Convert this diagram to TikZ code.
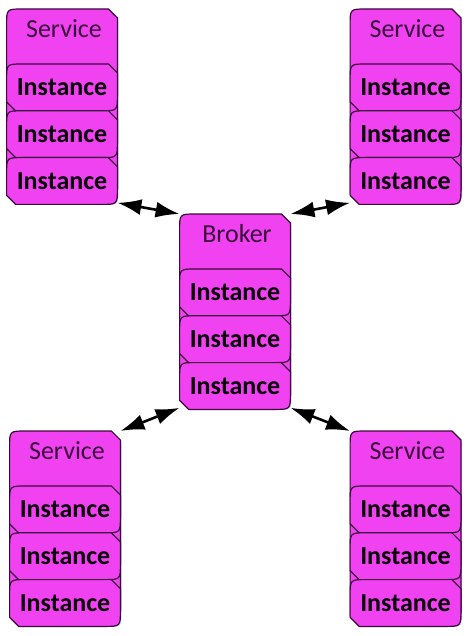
\documentclass[tikz,border=0pt]{standalone}
\usepackage{fontspec}
\setmainfont{Carlito}
\usetikzlibrary{arrows.meta, positioning, calc, backgrounds, shadows}

\definecolor{cardFill}{HTML}{F042F0}
\definecolor{cardLine}{HTML}{3A0A3A}
\definecolor{glowBlue}{HTML}{BDCBF0}

\newcommand{\cardR}{8pt}
\newcommand{\cardC}{4.5pt}
% card outline: round NW/SE corners, cut NE/SW corners
\newcommand{\cardShape}[2]{%
  \path[#2] ($(#1.north west)+(0pt,-\cardR)$) .. controls (#1.north west) .. ($(#1.north west)+(\cardR,0pt)$)
    -- ($(#1.north east)+(-\cardC,0pt)$) -- ($(#1.north east)+(0pt,-\cardC)$)
    -- ($(#1.south east)+(0pt,\cardR)$) .. controls (#1.south east) .. ($(#1.south east)+(-\cardR,0pt)$)
    -- ($(#1.south west)+(\cardC,0pt)$) -- ($(#1.south west)+(0pt,\cardC)$) -- cycle;}

\begin{document}
\begin{tikzpicture}[
        x=0.5pt, y=-0.5pt,
        cardBox/.style={
            rectangle, minimum width=55pt, minimum height=96.5pt, inner sep=0pt
        },
        instBox/.style={
            rectangle, minimum width=55pt, minimum height=23pt, inner sep=0pt,
            font=\fontsize{13}{15}\selectfont\bfseries, text=black!85!cardLine
        },
        titleText/.style={
            inner sep=0pt, font=\fontsize{13}{15}\selectfont, text=cardLine
        },
        cardPaint/.style={
            fill=cardFill, draw=cardLine, line width=0.6pt
        },
        link/.style={
            {Latex[length=12pt,width=8pt]}-{Latex[length=12pt,width=8pt]},
            line width=1.3pt, draw=black
        }
    ]
        \useasboundingbox (0,0) rectangle (469,636);

        % Service, top left
        \node (svcA) [cardBox, anchor=north] at (62,9) {};
        \node (svcAt) [titleText] at ($(svcA.north)+(2,20)$) {Service};
        \node (svcA1) [instBox, below=27.5pt of svcA.north] {Instance};
        \node (svcA2) [instBox, below=0pt of svcA1] {Instance};
        \node (svcA3) [instBox, below=0pt of svcA2] {Instance};

        % Service, top right
        \node (svcB) [cardBox, anchor=north] at (405.5,9) {};
        \node (svcBt) [titleText] at ($(svcB.north)+(2,20)$) {Service};
        \node (svcB1) [instBox, below=27.5pt of svcB.north] {Instance};
        \node (svcB2) [instBox, below=0pt of svcB1] {Instance};
        \node (svcB3) [instBox, below=0pt of svcB2] {Instance};

        % Broker, centre
        \node (broker) [cardBox, anchor=north] at (235,214) {};
        \node (brokert) [titleText] at ($(broker.north)+(2,20)$) {Broker};
        \node (broker1) [instBox, below=27.5pt of broker.north] {Instance};
        \node (broker2) [instBox, below=0pt of broker1] {Instance};
        \node (broker3) [instBox, below=0pt of broker2] {Instance};

        % Service, bottom left
        \node (svcC) [cardBox, anchor=north] at (65,431) {};
        \node (svcCt) [titleText] at ($(svcC.north)+(2,20)$) {Service};
        \node (svcC1) [instBox, below=27.5pt of svcC.north] {Instance};
        \node (svcC2) [instBox, below=0pt of svcC1] {Instance};
        \node (svcC3) [instBox, below=0pt of svcC2] {Instance};

        % Service, bottom right
        \node (svcD) [cardBox, anchor=north] at (405.5,431) {};
        \node (svcDt) [titleText] at ($(svcD.north)+(2,20)$) {Service};
        \node (svcD1) [instBox, below=27.5pt of svcD.north] {Instance};
        \node (svcD2) [instBox, below=0pt of svcD1] {Instance};
        \node (svcD3) [instBox, below=0pt of svcD2] {Instance};

        % Card outlines
        \begin{pgfonlayer}{background}
            \foreach \grp in {svcA, svcB, broker, svcC, svcD} {
                \cardShape{\grp}{cardPaint, drop shadow={shadow xshift=0.6pt, shadow yshift=-1.2pt, fill=glowBlue, opacity=0.8}}
                \foreach \k in {1,2,3} {
                    \cardShape{\grp\k}{cardPaint}
                }
            }
        \end{pgfonlayer}

        % Arrows
        \draw [link] (svcA.south east) -- (broker.north west);
        \draw [link] (svcB.south west) -- (broker.north east);
        \draw [link] (svcC.north east) -- (broker.south west);
        \draw [link] (broker.south east) -- (svcD.north west);
    \end{tikzpicture}
\end{document}
